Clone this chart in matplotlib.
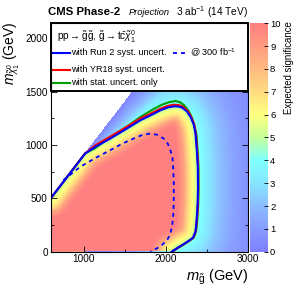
import numpy as np
import matplotlib
matplotlib.use("Agg")
import matplotlib.pyplot as plt
from matplotlib.colors import LinearSegmentedColormap
from matplotlib.path import Path
from matplotlib.patches import Rectangle
from matplotlib.lines import Line2D

plt.rcParams['font.family'] = ['Liberation Sans', 'DejaVu Sans']
plt.rcParams['mathtext.fontset'] = 'custom'
plt.rcParams['mathtext.rm'] = 'Liberation Sans'
plt.rcParams['mathtext.it'] = 'Liberation Sans:italic'
plt.rcParams['mathtext.bf'] = 'Liberation Sans:bold'

# ---------------- data ----------------
# Run 2 syst. uncertainty contour (3 ab^-1)
run2_mg = [600, 800, 1020, 1150, 1326, 1500, 1693, 1850, 1938, 2030, 2101, 2160, 2203, 2260,
           2306, 2345, 2366, 2382, 2394, 2396, 2392, 2380, 2366, 2335, 2290, 2220, 2150, 2100, 2075]
run2_lsp = [500, 700, 920, 985, 1060, 1140, 1231, 1290, 1325, 1352, 1362, 1360, 1350, 1315,
            1262, 1190, 1107, 950, 795, 600, 450, 300, 190, 130, 105, 70, 38, 12, 0]
# YR18 syst. uncertainty contour
yr18_mg = [600, 800, 1020, 1150, 1326, 1500, 1693, 1850, 1938, 2030, 2101, 2160, 2206, 2265,
           2310, 2350, 2370, 2386, 2397, 2399, 2395, 2383, 2369, 2338, 2293, 2223, 2153, 2103, 2078]
yr18_lsp = [500, 700, 922, 1000, 1078, 1158, 1248, 1306, 1340, 1367, 1377, 1374, 1362, 1325,
            1270, 1195, 1110, 952, 795, 600, 450, 300, 190, 130, 105, 70, 38, 12, 0]
# stat. uncertainty only contour
stat_mg = [600, 800, 1020, 1142, 1326, 1509, 1693, 1850, 1950, 2040, 2121, 2180, 2230, 2280,
           2320, 2358, 2378, 2392, 2402, 2404, 2400, 2388, 2373, 2342, 2297, 2227, 2157, 2107, 2082]
stat_lsp = [500, 700, 922, 970, 1075, 1160, 1262, 1335, 1375, 1400, 1412, 1400, 1370, 1320,
            1260, 1160, 1093, 935, 800, 600, 450, 300, 190, 130, 105, 70, 38, 12, 0]
# Run 2 syst. uncertainty at 300 fb^-1
lumi300_mg = [754, 796, 959, 1150, 1326, 1480, 1611, 1720, 1815, 1900, 1978, 2030, 2060,
              2085, 2093, 2101, 2101, 2095, 2081, 2055, 2020, 1940, 1815]
lumi300_lsp = [670, 695, 795, 880, 951, 1015, 1060, 1095, 1107, 1095, 1060, 1010, 951,
               880, 795, 650, 483, 350, 234, 160, 109, 50, 0]

# expected-significance profile vs. signed distance (px) from the Run 2 contour
prof_in_d = [0, 4, 9, 14, 20]
prof_in_z = [4.8, 5.8, 7.0, 8.8, 10.0]
prof_out_d = [0, 4, 10, 20, 35, 50, 70]
prof_out_z = [4.6, 3.9, 3.2, 2.3, 1.3, 0.7, 0.3]

# colour palette stops (significance, colour)
pal_z = [0, 1, 2, 3, 4, 5, 6, 7, 8, 9, 10]
pal_c = ['#8080ff', '#879cff', '#8cbcff', '#86e6ff', '#80ffff', '#c4ff9a', '#ffff80',
         '#ffdc80', '#ffbb80', '#ff9c80', '#ff8080']

cb_ticks = list(range(0, 11))
x_major = [1000, 2000, 3000]
y_major = [0, 500, 1000, 1500, 2000]

XMIN, XMAX, YMIN, YMAX = 600, 3000, 0, 2140
GEV_PER_PX_X, GEV_PER_PX_Y = 12.24, 9.35

# ---------------- significance map ----------------
mg = np.arange(XMIN, XMAX + 1, 8.0)
ml = np.arange(YMIN, YMAX + 1, 8.0)
MG, ML = np.meshgrid(mg, ml)
PX, PY = (MG - XMIN) / GEV_PER_PX_X, ML / GEV_PER_PX_Y
lx = (np.array(run2_mg) - XMIN) / GEV_PER_PX_X
ly = np.array(run2_lsp) / GEV_PER_PX_Y
dist = np.full(MG.shape, np.inf)
for i in range(len(lx) - 1):
    ax_, ay_, bx_, by_ = lx[i], ly[i], lx[i + 1], ly[i + 1]
    vx, vy = bx_ - ax_, by_ - ay_
    t = np.clip(((PX - ax_) * vx + (PY - ay_) * vy) / (vx * vx + vy * vy), 0, 1)
    d = np.hypot(PX - ax_ - t * vx, PY - ay_ - t * vy)
    dist = np.minimum(dist, d)
poly = list(zip(run2_mg, run2_lsp)) + [(XMIN, 0)]
inside = Path(poly).contains_points(np.c_[MG.ravel(), ML.ravel()]).reshape(MG.shape)
z_in = np.interp(dist, prof_in_d, prof_in_z)
f_comp = np.clip((MG - ML - 90) / 350.0, 0, 1) ** 0.7
z_out = np.interp(dist, prof_out_d, prof_out_z) * f_comp
Z = np.where(inside | ((MG < 1020) & (ML <= MG - 95)), np.where(inside, z_in, 9.0), z_out)
Z = np.ma.masked_where(ML > MG - 95, Z)

cmap = LinearSegmentedColormap.from_list('sig', [(z / 10.0, c) for z, c in zip(pal_z, pal_c)])
cmap.set_bad('white')

# ---------------- figure ----------------
fig = plt.figure(figsize=(3.05, 2.93), dpi=100)
ax = fig.add_axes([50.7 / 305, 1 - 251.7 / 293, 196.8 / 305, 228.4 / 293])
cax = fig.add_axes([250 / 305, 1 - 251.7 / 293, 18 / 305, 228.4 / 293])

im = ax.pcolormesh(MG, ML, Z, cmap=cmap, vmin=0, vmax=10, shading='nearest', rasterized=True)

ax.plot(stat_mg, stat_lsp, color='#00a000', lw=1.5, zorder=3)
ax.plot(yr18_mg, yr18_lsp, color='#ff0000', lw=1.5, zorder=4)
ax.plot(run2_mg, run2_lsp, color='#0000ff', lw=1.5, zorder=5)
ax.plot(lumi300_mg, lumi300_lsp, color='#0000ff', lw=1.3, ls=(0, (2.2, 2.2)), zorder=5)

ax.set_xlim(XMIN, XMAX)
ax.set_ylim(YMIN, YMAX)
ax.set_xticks(x_major)
ax.set_xticks([1500, 2500], minor=True)
ax.set_yticks(y_major)
ax.set_yticks([250, 750, 1250, 1750], minor=True)
ax.tick_params(which='both', direction='in', top=True, right=True, labelsize=7.2, pad=2)
ax.tick_params(which='major', length=4, width=0.6)
ax.tick_params(which='minor', length=2, width=0.6)
for s in ax.spines.values():
    s.set_linewidth(0.8)
    s.set_zorder(12)

# legend box
ax.add_patch(Rectangle((0, 0.7036), 1, 0.2964, transform=ax.transAxes, facecolor='white',
                       edgecolor='black', lw=1.4, zorder=10, clip_on=False))
ax.text(0.03, 0.940, r'pp$\rightarrow\mathrm{\tilde{g}\tilde{g}}$, $\mathrm{\tilde{g}}\rightarrow\mathrm{t\bar{c}}\tilde{\chi}^{0}_{1}$',
        transform=ax.transAxes, fontsize=7.2, va='center', ha='left', zorder=11)
rows = [(0.870, '#0000ff', 'with Run 2 syst. uncert.'),
        (0.796, '#ff0000', 'with YR18 syst. uncert.'),
        (0.739, '#00a000', 'with stat. uncert. only')]
for yy, col, lab in rows:
    ax.add_line(Line2D([0.007, 0.098], [yy, yy], transform=ax.transAxes, color=col, lw=1.5, zorder=11))
    ax.text(0.103, yy, lab, transform=ax.transAxes, fontsize=6.6, va='center', ha='left', zorder=11)
ax.add_line(Line2D([0.621, 0.698], [0.870, 0.870], transform=ax.transAxes, color='#0000ff',
                   lw=1.3, ls=(0, (2.2, 2.2)), zorder=11))
ax.text(0.708, 0.870, r'@ 300 fb$^{-1}$', transform=ax.transAxes, fontsize=6.6, va='center',
        ha='left', zorder=11)

# colorbar
cb = fig.colorbar(im, cax=cax)
cb.outline.set_visible(False)
cb.set_ticks(cb_ticks)
cax.tick_params(direction='in', length=3, width=0.6, labelsize=6.8, pad=1.5, right=True, left=False)

# titles / labels
fig.text(48 / 305, 1 - 12 / 293, 'CMS Phase-2', fontsize=8.2, fontweight='bold', va='center', ha='left')
fig.text(129 / 305, 1 - 12.5 / 293, 'Projection', fontsize=6.7, style='italic', va='center', ha='left')
fig.text(248 / 305, 1 - 12 / 293, r'3 ab$^{-1}$ (14 TeV)', fontsize=7.3, va='center', ha='right')
fig.text(248 / 305, 1 - 277 / 293, r'$m_{\mathrm{\tilde{g}}}$ (GeV)', fontsize=10.5, va='center', ha='right')
fig.text(12 / 305, 1 - 22 / 293, r'$m_{\tilde{\chi}^{0}_{1}}$ (GeV)', fontsize=10, rotation=90,
         va='top', ha='center')
fig.text(289 / 305, 1 - 21 / 293, 'Expected significance', fontsize=6.9, rotation=90,
         va='top', ha='center')

fig.savefig('out.png', dpi=100)
